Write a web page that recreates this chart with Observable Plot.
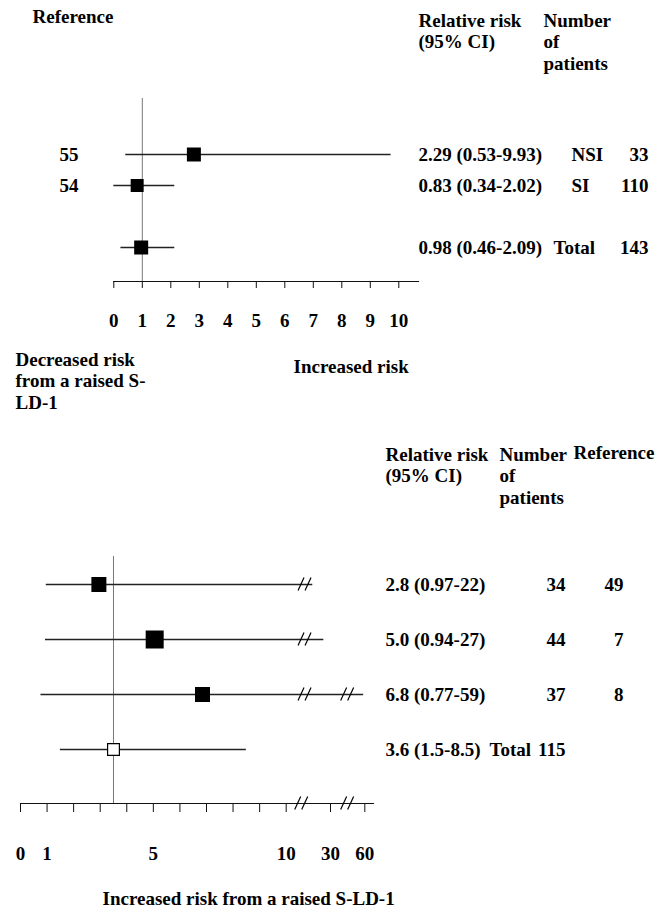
<!DOCTYPE html>
<html>
<head>
<meta charset="utf-8">
<script src="https://cdn.jsdelivr.net/npm/d3@7"></script>
<script src="https://cdn.jsdelivr.net/npm/@observablehq/plot@0.6"></script>
<style>
  html, body { margin: 0; padding: 0; background: #fff; }
  #chart svg { display: block; }
</style>
</head>
<body>
<div id="chart"></div>
<script>
// ---------------- DATA: top panel (NSI / SI) ----------------
const topGroups   = ["NSI", "SI", "Total"];
const topRefs     = ["55", "54", ""];
const topRRText   = ["2.29 (0.53-9.93)", "0.83 (0.34-2.02)", "0.98 (0.46-2.09)"];
const topPatients = [33, 110, 143];
// positions as drawn in the picture
const topPoint = [2.81, 0.82, 0.96];
const topLow   = [0.42, 0.0, 0.25];
const topHigh  = [9.73, 2.14, 2.14];
const topTicks = [0, 1, 2, 3, 4, 5, 6, 7, 8, 9, 10];
const topRefLine = [1];
const topAxisHeaderRR = "Relative risk\n(95% CI)";
const topAxisHeaderN  = "Number\nof\npatients";
const topHeaderRef    = "Reference";
const topLeftNote  = "Decreased risk\nfrom a raised S-\nLD-1";
const topRightNote = "Increased risk";

// ---------------- DATA: bottom panel ----------------
const botRRText   = ["2.8 (0.97-22)", "5.0 (0.94-27)", "6.8 (0.77-59)", "3.6 (1.5-8.5)"];
const botPatients = [34, 44, 37, 115];
const botRefs     = ["49", "7", "8", ""];
const botLabel    = ["", "", "", "Total"];
const botPoint = [2.95, 5.05, 6.85, 3.5];
const botLow   = [0.97, 0.94, 0.77, 1.5];
const botHigh  = [22, 27, 59, 8.5];
const botTotal = [false, false, false, true];
const botBreakRow = [0, 1, 2, 2];
const botBreakAt  = [18.5, 18.5, 18.5, 45];
const botAxisBreaks = [17, 45];
const botTicks      = [0, 1, 2, 3, 4, 5, 6, 7, 8, 9, 10, 30, 60];
const botTickLabels = ["0", "1", "", "", "", "5", "", "", "", "", "10", "30", "60"];
const botRefLine = [3.5];
const botHeaderRR  = "Relative risk\n(95% CI)";
const botHeaderN   = "Number\nof\npatients";
const botHeaderRef = "Reference";
const botFooter    = "Increased risk from a raised S-LD-1";

// ---------------- STYLE ----------------
const W = 670;
const STYLE = {
  fontFamily: "'Liberation Serif', 'Times New Roman', serif",
  fontSize: "19px",
  fontWeight: "bold",
  color: "black",
  background: "white",
  overflow: "visible"
};
const LH = 1.13;
const topSide = [14, 13, 14];
const botSide = [15, 18, 15, 13];
const SQ = Math.sqrt(Math.PI);

// break "//" marks drawn through the plot's own scales
function slashes(items) {
  return (index, scales, values, dims) => {
    const g = d3.create("svg:g").attr("stroke", "black").attr("stroke-width", 1.2).attr("fill", "none");
    for (const it of items) {
      const cx = scales.x(it.x);
      const cy = it.key === null ? dims.height - dims.marginBottom : scales.y(it.key);
      for (const off of [-3.5, 3.5]) {
        const c = cx + off;
        g.append("line").attr("x1", c - 3).attr("y1", cy + 6.5).attr("x2", c + 3).attr("y2", cy - 6.5);
      }
    }
    return g.node();
  };
}

// ---------------- TOP PANEL ----------------
const T = {h: 420, ml: 113.3, mr: 252, mt: 98, mb: 139};
const tdx = X => X - T.ml;
const tdy = Y => Y - T.mt;
const topKeys = ["NSI", "SI", "gap", "Total"];
const topRows = topGroups.map((g, i) => ({
  key: g, ref: topRefs[i], rr: topRRText[i], n: topPatients[i],
  pt: topPoint[i], lo: topLow[i], hi: topHigh[i], side: topSide[i], total: g === "Total"
}));

const topPlot = Plot.plot({
  width: W, height: T.h,
  marginLeft: T.ml, marginRight: T.mr, marginTop: T.mt, marginBottom: T.mb,
  style: STYLE,
  x: {domain: [0, 10], range: [113.3, 398.3], axis: null},
  y: {type: "point", domain: topKeys, range: [153, 247], padding: 0, axis: null},
  r: {type: "identity"},
  marks: [
    Plot.frame({anchor: "bottom", stroke: "#111", strokeWidth: 1.2}),
    Plot.axisX({ticks: topTicks, tickFormat: d => String(d), tickSize: 7, tickPadding: 25, anchor: "bottom", stroke: "#111"}),
    Plot.ruleX(topRefLine, {stroke: "#777", strokeWidth: 1}),
    Plot.ruleY(topRows, {y: "key", x1: "lo", x2: "hi", stroke: "#222", strokeWidth: 1.3}),
    Plot.dot(topRows, {x: "pt", y: "key", symbol: "square", r: d => d.side / SQ, fill: "black"}),
    // row texts
    Plot.text(topRows, {y: "key", text: "ref", frameAnchor: "left", dx: tdx(59), textAnchor: "start"}),
    Plot.text(topRows, {y: "key", text: "rr", frameAnchor: "left", dx: tdx(418), textAnchor: "start"}),
    Plot.text(topRows.filter(d => !d.total), {y: "key", text: "key", frameAnchor: "left", dx: tdx(571), textAnchor: "start"}),
    Plot.text(topRows.filter(d => d.total), {y: "key", text: "key", frameAnchor: "left", dx: tdx(553), textAnchor: "start"}),
    Plot.text(topRows, {y: "key", text: d => String(d.n), frameAnchor: "left", dx: tdx(648), textAnchor: "end"}),
    // headers
    Plot.text([topHeaderRef], {frameAnchor: "top-left", dx: tdx(32), dy: tdy(9), textAnchor: "start", lineAnchor: "top"}),
    Plot.text([topAxisHeaderRR], {frameAnchor: "top-left", dx: tdx(418), dy: tdy(11), textAnchor: "start", lineAnchor: "top", lineHeight: LH}),
    Plot.text([topAxisHeaderN], {frameAnchor: "top-left", dx: tdx(543), dy: tdy(11), textAnchor: "start", lineAnchor: "top", lineHeight: LH}),
    // notes below axis
    Plot.text([topLeftNote], {frameAnchor: "top-left", dx: tdx(15), dy: tdy(350), textAnchor: "start", lineAnchor: "top", lineHeight: LH}),
    Plot.text([topRightNote], {frameAnchor: "top-left", dx: tdx(293), dy: tdy(359), textAnchor: "start", lineAnchor: "top"})
  ]
});

// ---------------- BOTTOM PANEL ----------------
const B = {top: 420, h: 494, ml: 20, mr: 297, mt: 136, mb: 111};
const bdx = X => X - B.ml;
const bdy = Y => (Y - B.top) - B.mt;
const botKeys = ["r1", "r2", "r3", "total"];
const botRows = botRRText.map((t, i) => ({
  key: botKeys[i], rr: t, n: botPatients[i], ref: botRefs[i], label: botLabel[i],
  pt: botPoint[i], lo: botLow[i], hi: botHigh[i], side: botSide[i], total: botTotal[i]
}));
const botBreakItems = botBreakRow.map((r, i) => ({key: botKeys[r], x: botBreakAt[i]}))
  .concat(botAxisBreaks.map(x => ({key: null, x})));

const botPlot = Plot.plot({
  width: W, height: B.h,
  marginLeft: B.ml, marginRight: B.mr, marginTop: B.mt, marginBottom: B.mb,
  style: STYLE,
  x: {type: "linear", domain: [0, 10, 30, 60], range: [20, 285.7, 330, 364.3], axis: null},
  y: {type: "point", domain: botKeys, range: [164, 329], padding: 0, axis: null},
  r: {type: "identity"},
  marks: [
    Plot.frame({anchor: "bottom", stroke: "#111", strokeWidth: 1.2}),
    Plot.axisX({ticks: botTicks, tickFormat: d => botTickLabels[botTicks.indexOf(d)], tickSize: 9, tickPadding: 34, anchor: "bottom", stroke: "#111"}),
    Plot.ruleX(botRefLine, {stroke: "#777", strokeWidth: 1}),
    Plot.ruleY(botRows, {y: "key", x1: "lo", x2: "hi", stroke: "#222", strokeWidth: 1.3}),
    slashes(botBreakItems),
    Plot.dot(botRows.filter(d => !d.total), {x: "pt", y: "key", symbol: "square", r: d => d.side / SQ, fill: "black"}),
    Plot.dot(botRows.filter(d => d.total), {x: "pt", y: "key", symbol: "square", r: d => (d.side - 1.2) / SQ, fill: "white", stroke: "black", strokeWidth: 1.2}),
    // row texts
    Plot.text(botRows, {y: "key", text: "rr", frameAnchor: "left", dx: bdx(385), textAnchor: "start"}),
    Plot.text(botRows, {y: "key", text: "label", frameAnchor: "left", dx: bdx(489), textAnchor: "start"}),
    Plot.text(botRows, {y: "key", text: d => String(d.n), frameAnchor: "left", dx: bdx(565), textAnchor: "end"}),
    Plot.text(botRows, {y: "key", text: "ref", frameAnchor: "left", dx: bdx(623), textAnchor: "end"}),
    // headers
    Plot.text([botHeaderRR], {frameAnchor: "top-left", dx: bdx(385), dy: bdy(445), textAnchor: "start", lineAnchor: "top", lineHeight: LH}),
    Plot.text([botHeaderN], {frameAnchor: "top-left", dx: bdx(499), dy: bdy(445), textAnchor: "start", lineAnchor: "top", lineHeight: LH}),
    Plot.text([botHeaderRef], {frameAnchor: "top-left", dx: bdx(573), dy: bdy(445), textAnchor: "start", lineAnchor: "top"}),
    Plot.text([botFooter], {frameAnchor: "top-left", dx: bdx(102), dy: bdy(891), textAnchor: "start", lineAnchor: "top"})
  ]
});

const chart = document.getElementById("chart");
chart.appendChild(topPlot);
chart.appendChild(botPlot);
</script>
</body>
</html>
